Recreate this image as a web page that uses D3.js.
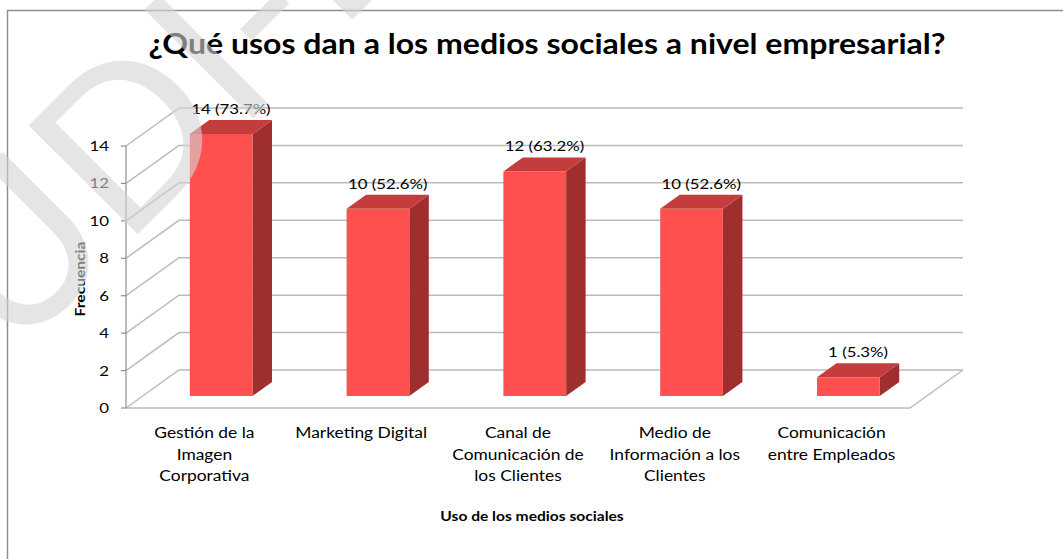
<!DOCTYPE html>
<html>
<head>
<meta charset="utf-8">
<script src="https://cdn.jsdelivr.net/npm/d3@7"></script>
<style>
  html, body { margin: 0; padding: 0; background: #fff; overflow: hidden; }
  svg { display: block; font-family: Lato, "Open Sans", sans-serif; }
</style>
</head>
<body>
<svg id="chart" width="1063" height="559"></svg>
<script>
// ---- data ----
const categories = [
  "Gestión de la Imagen Corporativa",
  "Marketing Digital",
  "Canal de Comunicación de los Clientes",
  "Medio de Información a los Clientes",
  "Comunicación entre Empleados"
];
const categoryLines = [
  ["Gestión de la", "Imagen", "Corporativa"],
  ["Marketing Digital"],
  ["Canal de", "Comunicación de", "los Clientes"],
  ["Medio de", "Información a los", "Clientes"],
  ["Comunicación", "entre Empleados"]
];
const frequencies = [14, 10, 12, 10, 1];
const percentages = ["73.7%", "52.6%", "63.2%", "52.6%", "5.3%"];
const yTicks = [0, 2, 4, 6, 8, 10, 12, 14];
const chartTitle = "¿Qué usos dan a los medios sociales a nivel empresarial?";
const xAxisTitle = "Uso de los medios sociales";
const yAxisTitle = "Frecuencia";

// ---- layout ----
const svg = d3.select("#chart");
const floor = { left: 126, right: 910, y: 408, top: 146 };
const depth = { dx: 53, dy: -38 };      // offset of the back wall
const barDepth = [0.316, 0.684];        // bar position inside the depth
const gridColor = "#BBBBBB";
const frontColor = "#FF5050", topColor = "#C53C3C", sideColor = "#9F2F2F";
const widen = 1.2;                      // horizontal text widening

const x = d3.scaleBand().domain(categories).range([floor.left, floor.right]).padding(0);
const y = d3.scaleLinear().domain([0, 14]).range([floor.y, floor.top]);
const barW = x.bandwidth() * 0.40;

// stretch a text horizontally by the widening factor
function widenText(sel) {
  sel.each(function () {
    const len = this.getComputedTextLength();
    d3.select(this).attr("textLength", len * widen).attr("lengthAdjust", "spacingAndGlyphs");
  });
  return sel;
}

// outer frame
svg.append("rect")
  .attr("x", 7.5).attr("y", 10.5).attr("width", 1100).attr("height", 600)
  .attr("fill", "#fff").attr("stroke", "#8E8E8E").attr("stroke-width", 1.5);

// title
svg.append("text")
  .attr("x", 547).attr("y", 54)
  .attr("text-anchor", "middle")
  .attr("font-size", 28).attr("font-weight", "bold").attr("fill", "#000")
  .attr("textLength", 797).attr("lengthAdjust", "spacingAndGlyphs")
  .text(chartTitle);

// back wall grid + side wall diagonals
const grid = svg.append("g").attr("stroke", gridColor).attr("stroke-width", 1.5).attr("fill", "none");
yTicks.forEach(t => {
  grid.append("path").attr("d", d3.line()([
    [floor.left, y(t)],
    [floor.left + depth.dx, y(t) + depth.dy],
    [floor.right + depth.dx, y(t) + depth.dy]
  ]));
});
// floor outline
grid.append("path").attr("d", d3.line()([
  [floor.left, floor.y],
  [floor.right, floor.y],
  [floor.right + depth.dx, floor.y + depth.dy]
]));

// value axis
const axis = svg.append("g").attr("stroke", "#8E8E8E").attr("stroke-width", 1.2);
axis.append("line").attr("x1", floor.left).attr("x2", floor.left)
  .attr("y1", y(0)).attr("y2", y(14));
yTicks.forEach(t => {
  axis.append("line").attr("x1", floor.left - 5).attr("x2", floor.left)
    .attr("y1", y(t)).attr("y2", y(t));
});
widenText(svg.append("g").selectAll("text").data(yTicks).join("text")
  .attr("x", 109).attr("y", d => y(d) + 5)
  .attr("text-anchor", "end").attr("font-size", 14).attr("fill", "#000")
  .text(d => d));

// 3D bars
const bars = svg.append("g");
const labels = svg.append("g");
categories.forEach((c, i) => {
  const v = frequencies[i];
  const cx = x(c) + x.bandwidth() / 2;
  const fx = cx - barW / 2 + barDepth[0] * depth.dx;
  const fyOff = barDepth[0] * depth.dy;
  const bdx = (barDepth[1] - barDepth[0]) * depth.dx;
  const bdy = (barDepth[1] - barDepth[0]) * depth.dy;
  const yTop = y(v) + fyOff, yBot = y(0) + fyOff;
  const g = bars.append("g");
  // side face
  g.append("path").attr("fill", sideColor).attr("d", d3.line()([
    [fx + barW, yTop], [fx + barW + bdx, yTop + bdy],
    [fx + barW + bdx, yBot + bdy], [fx + barW, yBot]
  ]) + "Z");
  // top face
  g.append("path").attr("fill", topColor).attr("d", d3.line()([
    [fx, yTop], [fx + bdx, yTop + bdy],
    [fx + barW + bdx, yTop + bdy], [fx + barW, yTop]
  ]) + "Z");
  // front face
  g.append("rect").attr("fill", frontColor)
    .attr("x", fx).attr("y", yTop).attr("width", barW).attr("height", yBot - yTop);
  // value label
  widenText(labels.append("text")
    .attr("x", fx + barW / 2 + bdx / 2)
    .attr("y", y(v) + barDepth[1] * depth.dy - 6)
    .attr("text-anchor", "middle").attr("font-size", 14).attr("fill", "#000")
    .text(`${v} (${percentages[i]})`));
});

// category labels, one text per line
const catG = svg.append("g").attr("font-size", 14.5).attr("fill", "#000").attr("text-anchor", "middle");
categories.forEach((c, i) => {
  categoryLines[i].forEach((line, k) => {
    widenText(catG.append("text")
      .attr("x", x(c) + x.bandwidth() / 2)
      .attr("y", 438 + k * 21.5)
      .text(line));
  });
});

// axis titles
widenText(svg.append("text")
  .attr("x", 532).attr("y", 521)
  .attr("text-anchor", "middle").attr("font-size", 13).attr("font-weight", "bold")
  .text(xAxisTitle));
widenText(svg.append("text")
  .attr("transform", "translate(85,279) rotate(-90)")
  .attr("text-anchor", "middle").attr("font-size", 13).attr("font-weight", "bold")
  .text(yAxisTitle));

// watermark
svg.append("text")
  .attr("transform", "translate(12,360) rotate(-45)")
  .attr("font-size", 215).attr("fill", "#D4D4D4").attr("opacity", 0.6)
  .text("UDI-D");
</script>
</body>
</html>
